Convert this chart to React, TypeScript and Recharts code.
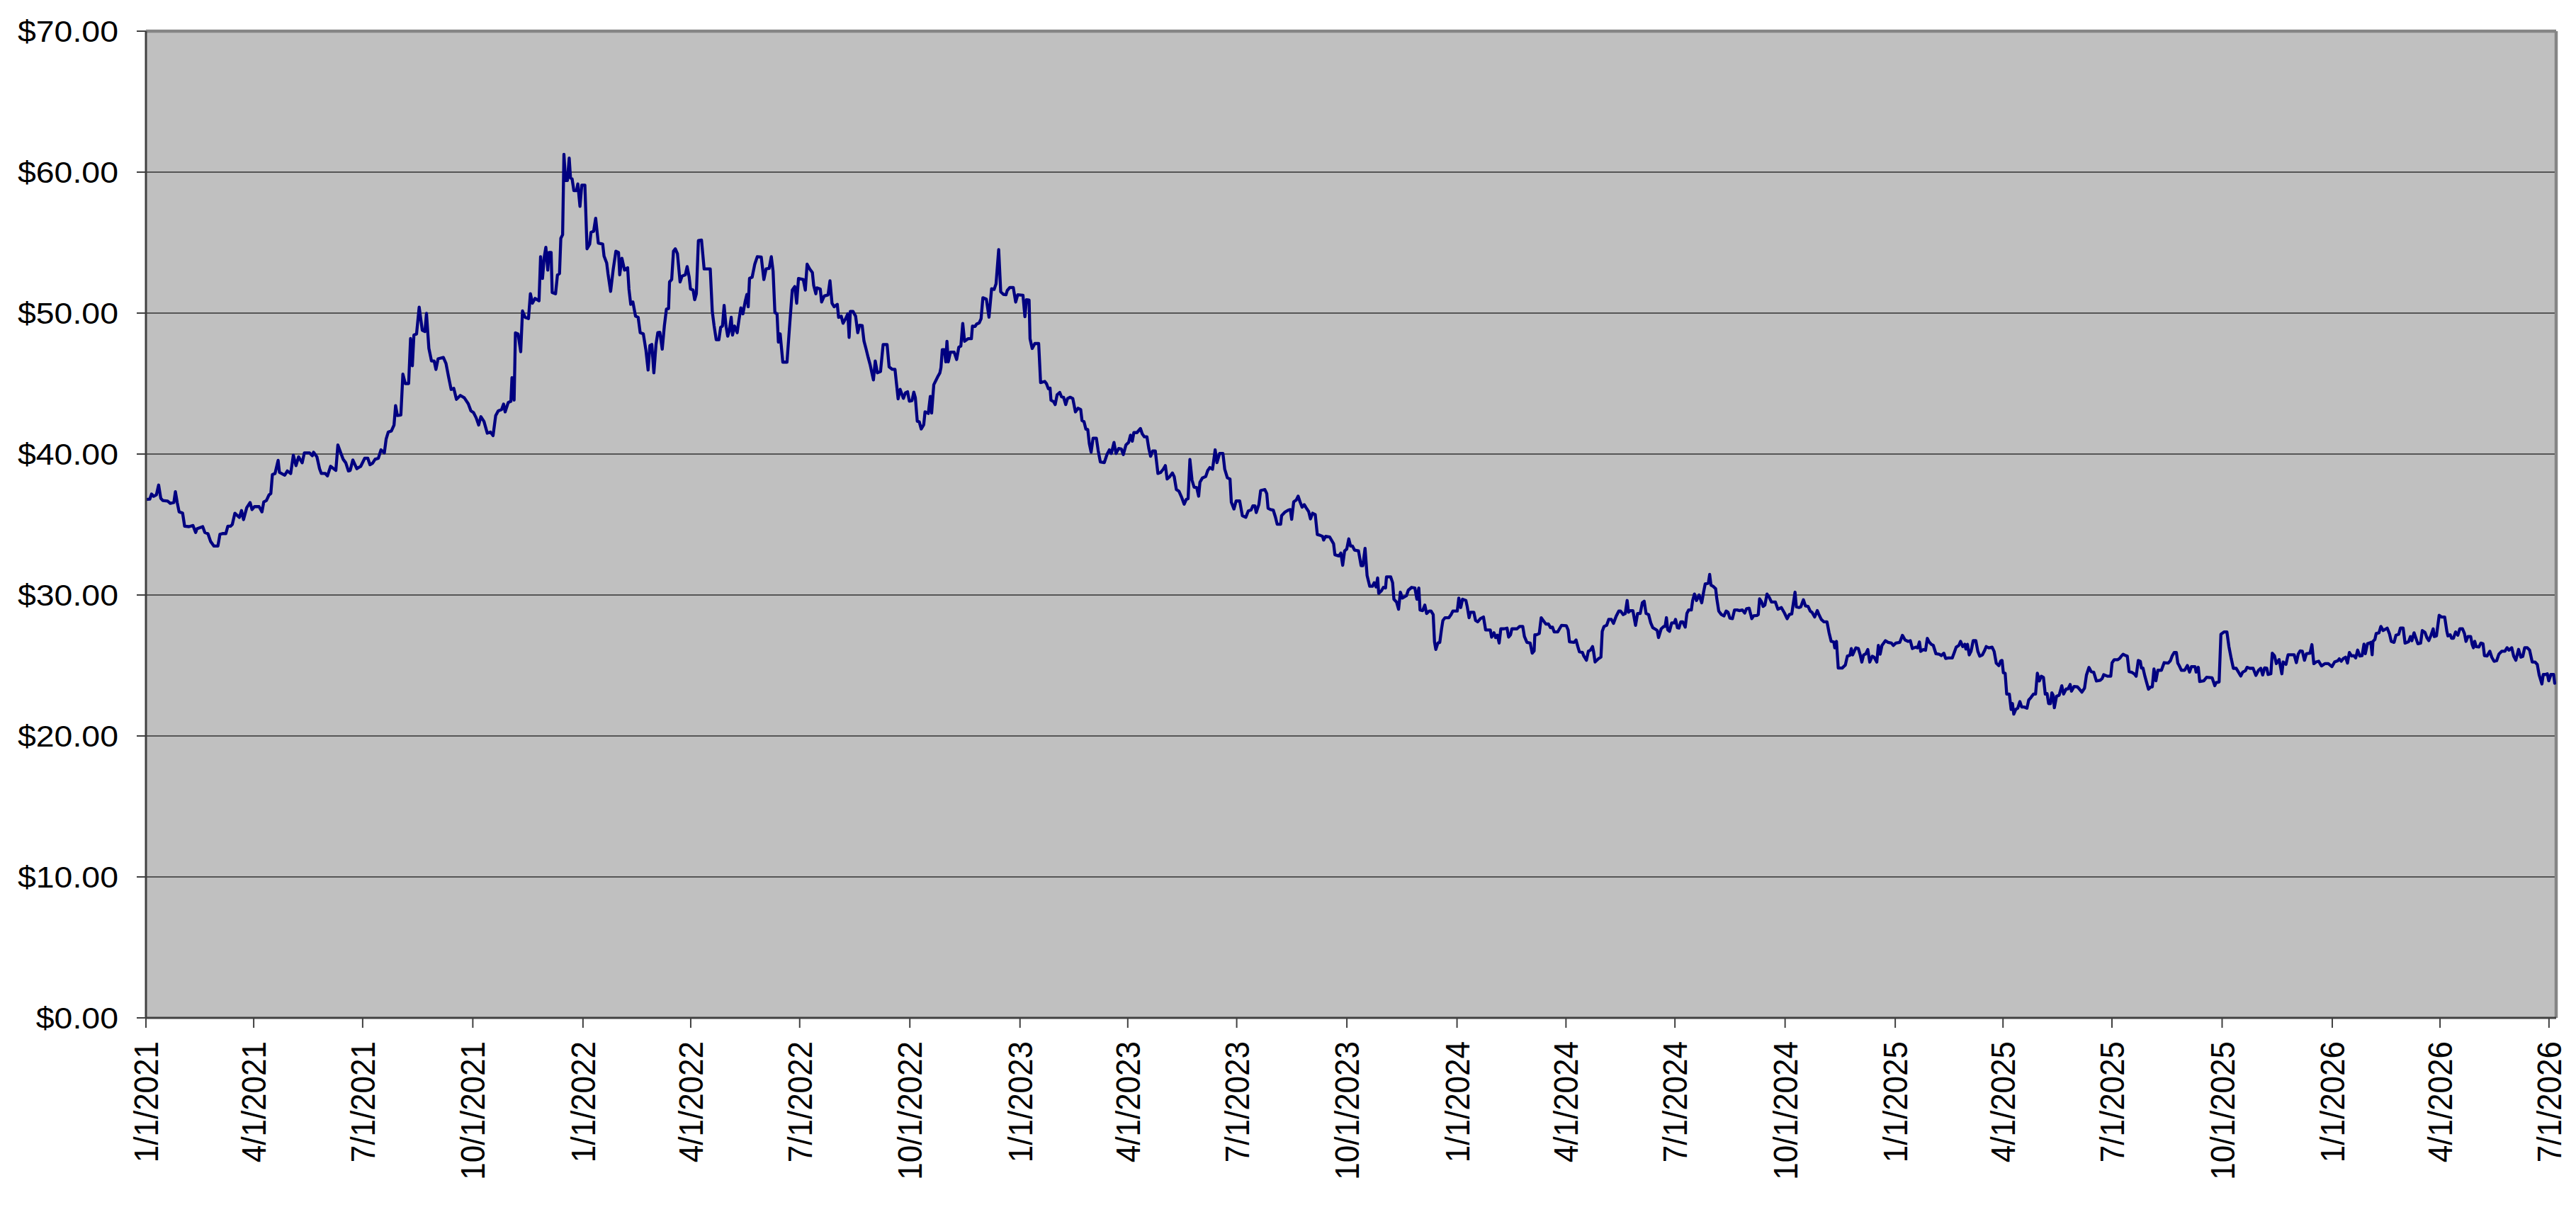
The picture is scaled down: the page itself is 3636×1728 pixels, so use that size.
import React from 'react';
import { LineChart, Line, XAxis, YAxis, CartesianGrid, ReferenceLine } from 'recharts';

// x values are days counted from 1/1/2021, y values are prices in dollars
const START_UTC = Date.UTC(2021, 0, 1);
const DAY_MS = 86400000;
const X_END_DAY = 2013;

const tickDates: string[] = [
  '1/1/2021', '4/1/2021', '7/1/2021', '10/1/2021',
  '1/1/2022', '4/1/2022', '7/1/2022', '10/1/2022',
  '1/1/2023', '4/1/2023', '7/1/2023', '10/1/2023',
  '1/1/2024', '4/1/2024', '7/1/2024', '10/1/2024',
  '1/1/2025', '4/1/2025', '7/1/2025', '10/1/2025',
  '1/1/2026', '4/1/2026', '7/1/2026',
];

const priceTicks: number[] = [0, 10, 20, 30, 40, 50, 60, 70];

// Jan 2021 - Nov 2021
const pricesA: [number, number][] = [
  [0, 36.78], [3.2, 36.8], [4.7, 37.16], [6.5, 37.0], [8.7, 37.1], [10.6, 37.8], [12.4, 36.86], [14.1, 36.7], [18.1, 36.66], [20.3, 36.5],
  [23.3, 36.56], [24.6, 37.33], [26.2, 36.53], [27.7, 35.9], [30.6, 35.82], [32.3, 34.88], [36.0, 34.85], [39.3, 34.93], [41.5, 34.43], [42.6, 34.7],
  [47.4, 34.85], [49.2, 34.43], [51.8, 34.35], [54.0, 33.8], [56.8, 33.47], [60.1, 33.47], [61.8, 34.3], [64.5, 34.37], [66.7, 34.35], [68.4, 34.88],
  [70.6, 34.88], [72.1, 35.0], [74.3, 35.8], [78.0, 35.5], [79.8, 35.99], [81.5, 35.35], [84.2, 36.2], [87.0, 36.56], [88.6, 36.06], [90.7, 36.27],
  [94.5, 36.27], [96.9, 35.9], [98.4, 36.6], [100.6, 36.7], [102.8, 37.1], [104.3, 37.2], [105.6, 38.54], [107.8, 38.62], [110.4, 39.55], [111.5, 38.7],
  [115.9, 38.5], [118.1, 38.8], [120.9, 38.62], [123.1, 39.92], [125.3, 39.18], [127.5, 39.8], [130.5, 39.38], [132.3, 40.08], [136.7, 40.08], [138.9, 39.88],
  [140.0, 40.13], [142.8, 39.8], [145.0, 38.96], [146.5, 38.62], [149.8, 38.62], [151.6, 38.45], [154.2, 39.13], [158.6, 38.84], [160.3, 40.64], [162.5, 40.13],
  [164.7, 39.63], [166.9, 39.38], [169.1, 38.8], [170.6, 38.84], [172.8, 39.58], [176.1, 38.96], [179.4, 39.13], [182.7, 39.7], [185.3, 39.7], [187.1, 39.24],
  [189.3, 39.35], [191.4, 39.63], [194.1, 39.7], [196.3, 40.3], [199.1, 40.08], [200.6, 41.06], [202.4, 41.56], [205.0, 41.64], [207.2, 42.06], [208.5, 43.44],
  [210.0, 42.73], [212.9, 42.77], [214.6, 45.67], [216.6, 45.0], [219.4, 45.0], [221.0, 48.19], [222.5, 46.26], [223.8, 48.44], [226.0, 48.52], [228.2, 50.42],
  [230.8, 48.78], [233.0, 48.69], [234.3, 49.98], [236.3, 47.5], [238.5, 46.6], [240.7, 46.6], [242.2, 46.0], [244.0, 46.76], [248.4, 46.85], [250.6, 46.43],
  [252.7, 45.5], [254.9, 44.58], [257.1, 44.66], [259.3, 43.88], [262.6, 44.16], [265.9, 43.99], [269.2, 43.57], [271.4, 43.07], [273.6, 42.94], [275.8, 42.57],
  [277.9, 42.06], [279.7, 42.65], [282.3, 42.32], [285.1, 41.48], [287.7, 41.56], [289.9, 41.31], [292.1, 42.73], [294.3, 43.07], [297.0, 43.15], [298.7, 43.54],
  [300.0, 42.99], [302.6, 43.66], [304.8, 43.74], [305.7, 45.42], [307.5, 43.83], [308.6, 48.6], [310.8, 48.52], [313.0, 47.26], [314.5, 50.15], [316.7, 49.7],
  [319.5, 49.61], [321.1, 51.38], [322.8, 50.7], [325.0, 51.04], [328.3, 50.87],
];

// Nov 2021 - Oct 2022
const pricesB: [number, number][] = [
  [329.6, 54.0], [331.2, 52.46], [332.7, 54.0], [334.0, 54.67], [335.6, 53.05], [336.7, 54.3], [338.4, 54.3], [339.3, 51.46], [342.1, 51.37], [343.7, 52.71],
  [345.4, 52.8], [346.5, 55.3], [348.0, 55.56], [349.1, 61.26], [350.4, 59.41], [352.0, 59.41], [353.5, 61.0], [354.6, 59.58], [355.9, 59.53], [357.4, 58.69],
  [359.6, 58.69], [360.7, 59.16], [362.5, 57.57], [364.0, 59.08], [366.6, 59.08], [368.4, 54.56], [370.6, 54.89], [371.7, 55.73], [373.9, 55.8], [375.6, 56.73],
  [377.8, 54.97], [381.5, 54.89], [382.6, 54.05], [384.8, 53.55], [385.9, 52.8], [388.1, 51.54], [390.3, 53.13], [392.5, 54.39], [394.7, 54.3], [395.7, 52.71],
  [397.5, 53.89], [399.7, 53.05], [402.3, 53.22], [403.4, 51.71], [404.9, 50.62], [406.7, 50.79], [408.9, 49.78], [411.1, 49.7], [412.8, 48.61], [415.4, 48.53],
  [417.6, 47.35], [419.4, 45.96], [420.9, 47.69], [422.5, 47.77], [424.2, 45.76], [426.0, 47.77], [427.5, 48.61], [429.2, 48.64], [431.2, 47.44], [433.0, 49.11],
  [434.7, 50.28], [436.5, 50.32], [437.3, 52.21], [439.1, 52.38], [440.6, 54.39], [442.1, 54.56], [443.9, 54.22], [446.1, 52.21], [447.8, 52.63], [450.5, 52.71],
  [452.0, 53.3], [453.7, 52.55], [454.8, 51.71], [457.0, 51.63], [458.3, 50.95], [459.7, 51.37], [461.4, 55.14], [464.0, 55.18], [466.2, 53.13], [469.1, 53.13],
  [471.3, 53.13], [473.0, 50.12], [474.5, 49.11], [476.3, 48.11], [478.5, 48.11], [480.0, 48.98], [481.5, 49.08], [482.9, 50.54], [484.4, 49.11], [485.9, 48.36],
  [487.2, 48.74], [488.8, 49.7], [489.9, 48.44], [491.6, 49.08], [493.8, 48.61], [495.3, 49.53], [496.9, 50.37], [498.6, 49.95], [500.4, 50.79], [501.9, 51.32],
  [503.0, 50.45], [504.1, 52.46], [506.3, 52.55], [508.5, 53.47], [510.6, 54.0], [513.9, 53.97], [516.1, 52.38], [517.9, 53.13], [520.5, 53.17], [522.3, 54.0],
  [523.8, 52.96], [525.3, 50.03], [527.1, 49.95], [528.2, 47.94], [529.7, 48.53], [531.9, 46.52], [535.4, 46.52], [537.6, 49.11], [539.8, 51.63], [541.9, 51.88],
  [543.5, 50.7], [545.0, 52.46], [549.0, 52.38], [550.7, 51.63], [552.2, 53.47], [554.4, 53.13], [556.6, 52.88], [557.7, 51.96], [559.5, 51.37], [560.3, 51.79],
  [563.2, 51.71], [564.3, 50.79], [566.5, 51.21], [569.7, 51.29], [571.3, 52.29], [573.0, 50.7], [574.8, 50.45], [577.4, 50.62], [578.5, 49.7], [580.7, 49.78],
  [582.2, 49.28], [584.4, 49.61], [586.2, 49.95], [587.3, 48.27], [588.3, 50.12], [590.5, 50.12], [592.7, 49.78], [594.5, 48.61], [596.0, 49.14], [598.2, 49.11],
  [599.7, 48.02], [601.5, 47.44], [603.2, 46.85], [604.8, 46.35], [606.3, 45.76], [607.6, 45.26], [609.1, 46.6], [610.9, 45.76], [613.5, 45.85], [615.7, 47.77],
  [619.0, 47.77], [620.7, 46.18], [623.4, 46.01], [625.6, 46.01], [628.2, 43.92], [629.9, 44.59], [632.6, 43.95], [634.3, 44.34], [636.1, 44.42], [637.6, 43.75],
  [639.8, 43.79], [641.3, 44.39], [642.6, 44.0], [644.2, 42.33], [645.9, 42.28], [647.5, 41.78], [649.6, 42.08], [650.7, 43.0], [653.4, 42.88], [655.1, 44.09],
  [656.2, 42.91], [658.0, 44.92],
];

// Oct 2022 - Sep 2023
const pricesC: [number, number][] = [
  [661.4, 45.5], [663.1, 45.76], [664.0, 46.14], [665.1, 47.4], [666.9, 47.4], [668.0, 46.54], [669.0, 48.0], [670.1, 46.54], [671.9, 47.23], [675.0, 47.23],
  [677.1, 46.71], [678.9, 47.58], [680.6, 47.66], [682.2, 49.26], [683.7, 48.0], [686.6, 48.18], [689.4, 48.18], [690.3, 49.08], [692.5, 49.05], [693.8, 49.22],
  [696.0, 49.31], [697.5, 49.6], [699.0, 51.09], [701.9, 50.99], [704.1, 49.71], [706.3, 51.73], [708.4, 51.68], [710.0, 52.08], [712.2, 54.5], [713.9, 51.51],
  [716.1, 51.33], [718.3, 51.3], [719.4, 51.61], [721.6, 51.82], [724.4, 51.82], [726.4, 50.78], [728.1, 51.3], [732.5, 51.26], [734.1, 49.74], [735.4, 50.95],
  [737.6, 50.92], [738.4, 48.18], [740.2, 47.49], [742.4, 47.84], [745.6, 47.84], [747.2, 45.07], [750.7, 45.15], [752.2, 44.98], [753.7, 44.63], [755.1, 44.68],
  [755.9, 43.82], [758.1, 43.71], [759.4, 43.51], [761.0, 44.2], [763.2, 44.37], [764.7, 44.06], [766.4, 44.03], [768.2, 43.51], [769.7, 43.94], [771.9, 44.03],
  [774.1, 43.94], [776.3, 42.99], [778.5, 43.25], [780.7, 43.16], [781.8, 42.38], [783.5, 42.29], [785.0, 41.77], [786.6, 41.74], [787.9, 40.74], [789.4, 40.13],
  [791.0, 41.12], [793.8, 41.12], [795.3, 40.25], [797.1, 39.44], [800.4, 39.39], [802.6, 39.96], [804.7, 40.3], [806.3, 40.04], [808.5, 40.82], [810.2, 40.04],
  [812.4, 40.39], [814.6, 40.36], [816.3, 39.96], [818.5, 40.65], [820.7, 40.82], [822.3, 41.34], [823.8, 40.91], [825.1, 41.52], [827.7, 41.52], [830.6, 41.81],
  [832.1, 41.43], [833.9, 41.22], [836.0, 41.22], [837.6, 40.39], [839.1, 39.84], [840.9, 40.22], [843.0, 40.22], [845.2, 38.62], [847.4, 38.69], [849.6, 38.92],
  [851.4, 39.18], [852.9, 38.23], [855.1, 38.4], [857.3, 38.66], [858.8, 38.4], [860.6, 37.48], [862.8, 37.36], [865.0, 36.93], [867.1, 36.44], [868.9, 36.79],
  [870.4, 36.84], [871.9, 39.61], [873.7, 38.14], [875.4, 37.65], [877.6, 37.62], [879.2, 37.01], [880.3, 38.0], [882.4, 38.31], [885.1, 38.4], [886.8, 38.83],
  [888.6, 39.04], [890.8, 38.92], [893.0, 40.3], [894.5, 39.39], [896.7, 40.04], [899.5, 40.04], [901.0, 38.92], [903.2, 38.31], [905.4, 38.23], [906.5, 36.58],
  [908.7, 36.1], [910.5, 36.67], [913.5, 36.67], [915.7, 35.63], [918.6, 35.51], [920.7, 35.97], [923.0, 36.03], [924.5, 36.32], [926.2, 36.32], [927.3, 35.85],
  [929.5, 36.41], [931.0, 37.41], [932.8, 37.45], [934.5, 37.48], [936.1, 37.19], [937.2, 36.15], [939.3, 36.06], [941.5, 36.03], [943.3, 35.54], [944.8, 35.02],
  [947.7, 35.02], [948.5, 35.63], [951.4, 35.89], [954.2, 36.03], [955.8, 36.06], [956.9, 35.37], [958.6, 36.61], [960.8, 36.75], [962.3, 37.01], [963.9, 36.61],
  [965.6, 36.23], [967.4, 36.41], [968.9, 36.2], [971.1, 35.92], [972.6, 35.4], [974.4, 35.8], [976.6, 35.71], [978.3, 34.29], [980.5, 34.24], [982.7, 34.16],
  [983.6, 33.9], [985.3, 34.16], [988.6, 34.12], [990.1, 33.9], [991.9, 33.64], [993.0, 32.86], [996.3, 32.77], [998.0, 32.98], [999.5, 32.11], [1001.1, 33.12],
];

// Sep 2023 - Aug 2024
const pricesD: [number, number][] = [
  [1002.9, 33.26], [1004.6, 33.98], [1006.1, 33.47], [1007.7, 33.47], [1009.4, 33.19], [1012.7, 33.14], [1014.9, 32.08], [1016.4, 32.08], [1018.2, 33.31], [1019.9, 31.38],
  [1022.1, 30.62], [1024.3, 30.62], [1025.8, 30.87], [1027.4, 30.57], [1028.7, 31.21], [1029.6, 30.12], [1031.8, 30.29], [1033.5, 30.54], [1035.3, 30.5], [1036.1, 31.29],
  [1039.6, 31.29], [1041.2, 30.87], [1042.3, 29.7], [1044.5, 29.5], [1046.2, 28.99], [1047.7, 30.2], [1049.3, 29.78], [1052.8, 29.95], [1054.3, 30.34], [1057.1, 30.54],
  [1059.8, 30.5], [1061.5, 29.7], [1063.1, 30.5], [1064.1, 28.94], [1066.3, 28.89], [1068.1, 29.28], [1069.6, 28.69], [1071.8, 28.86], [1073.3, 28.86], [1075.1, 28.61],
  [1076.2, 26.68], [1077.3, 26.14], [1079.0, 26.59], [1080.6, 26.64], [1082.1, 27.6], [1083.2, 28.19], [1085.0, 28.39], [1088.2, 28.39], [1090.0, 28.61], [1091.5, 28.86],
  [1095.2, 28.86], [1096.5, 29.78], [1098.1, 29.11], [1099.6, 29.7], [1102.4, 29.61], [1103.5, 29.19], [1105.1, 28.39], [1106.2, 28.78], [1109.0, 28.78], [1110.5, 28.19],
  [1112.3, 28.1], [1114.5, 28.32], [1117.1, 28.44], [1118.9, 27.52], [1122.8, 27.52], [1123.9, 27.01], [1125.9, 27.32], [1127.2, 26.98], [1128.7, 27.15], [1130.2, 26.59],
  [1131.6, 27.6], [1134.2, 27.6], [1136.8, 27.65], [1138.1, 27.01], [1139.7, 27.18], [1140.8, 27.6], [1145.1, 27.6], [1147.3, 27.77], [1149.9, 27.77], [1151.3, 27.05],
  [1153.4, 26.64], [1156.1, 26.59], [1157.8, 25.87], [1159.4, 26.04], [1160.0, 27.18], [1161.5, 27.18], [1163.7, 27.27], [1165.3, 28.39], [1167.0, 28.19], [1169.2, 27.94],
  [1171.4, 27.94], [1173.1, 27.68], [1174.7, 27.72], [1176.2, 27.38], [1179.1, 27.38], [1182.3, 27.85], [1186.3, 27.82], [1187.8, 27.52], [1188.9, 26.68], [1192.8, 26.64],
  [1194.4, 26.81], [1195.9, 26.34], [1197.2, 25.97], [1199.8, 25.92], [1200.9, 25.67], [1203.1, 25.37], [1204.7, 26.01], [1206.4, 26.09], [1208.2, 26.34], [1209.0, 26.01],
  [1210.3, 25.25], [1213.4, 25.5], [1215.2, 25.59], [1216.3, 27.43], [1217.8, 27.77], [1220.0, 27.85], [1221.7, 28.27], [1223.9, 28.27], [1225.7, 27.99], [1227.9, 28.49],
  [1230.1, 28.86], [1231.6, 28.86], [1233.8, 28.61], [1235.5, 28.69], [1237.1, 29.61], [1238.2, 28.78], [1239.7, 28.89], [1241.9, 28.89], [1244.1, 27.85], [1245.8, 28.69],
  [1248.0, 28.69], [1249.8, 29.45], [1251.3, 29.56], [1252.9, 28.69], [1255.0, 28.61], [1256.8, 28.02], [1258.5, 27.68], [1261.1, 27.55], [1262.2, 27.48], [1263.3, 26.98],
  [1265.5, 27.6], [1267.7, 27.77], [1268.8, 27.77], [1269.9, 28.39], [1271.0, 27.52], [1272.5, 27.43], [1274.3, 28.02], [1276.4, 28.02], [1277.5, 28.27], [1279.1, 27.68],
  [1280.4, 27.65], [1281.9, 28.1], [1283.5, 28.1], [1285.6, 27.72], [1287.0, 28.69], [1288.5, 28.94], [1290.7, 28.94], [1291.8, 29.61], [1293.3, 30.07], [1295.0, 29.61],
  [1297.2, 30.0], [1299.4, 29.45], [1301.0, 30.23], [1302.3, 30.79], [1304.9, 30.84], [1306.0, 31.46], [1307.1, 30.7], [1308.8, 30.62], [1311.0, 30.45], [1311.9, 29.78],
  [1313.6, 28.86], [1315.8, 28.61], [1318.0, 28.52], [1319.8, 28.86], [1321.3, 28.78], [1322.9, 28.36], [1325.0, 28.32], [1326.8, 28.94], [1329.0, 28.94], [1330.7, 28.89],
  [1333.3, 28.94],
];

// Aug 2024 - Jul 2025
const pricesE: [number, number][] = [
  [1335.3, 28.72], [1336.8, 29.03], [1339.0, 29.06], [1341.2, 28.32], [1342.7, 28.52], [1345.5, 28.55], [1346.6, 28.61], [1347.7, 29.73], [1349.3, 29.53], [1350.6, 29.19],
  [1352.1, 29.28], [1353.9, 30.07], [1355.8, 29.83], [1357.6, 29.5], [1360.9, 29.5], [1363.0, 28.99], [1365.9, 29.11], [1368.5, 28.72], [1370.7, 28.32], [1372.5, 28.61],
  [1374.6, 28.66], [1375.5, 29.19], [1377.3, 30.2], [1378.4, 29.16], [1380.6, 29.11], [1382.1, 29.16], [1384.3, 29.66], [1386.0, 29.23], [1388.2, 29.19], [1390.0, 28.86],
  [1391.5, 28.77], [1393.7, 28.44], [1395.9, 28.89], [1397.0, 28.66], [1399.2, 28.27], [1401.3, 28.1], [1404.0, 28.1], [1405.7, 27.34], [1407.5, 26.71], [1409.7, 26.67],
  [1410.5, 26.25], [1411.9, 26.71], [1413.4, 24.82], [1416.7, 24.82], [1419.3, 25.03], [1421.0, 25.66], [1423.2, 25.73], [1424.3, 26.2], [1425.4, 25.75], [1428.1, 26.25],
  [1430.2, 26.2], [1431.6, 25.8], [1433.1, 25.24], [1434.6, 25.75], [1436.4, 25.83], [1438.1, 26.13], [1439.7, 25.24], [1441.8, 25.66], [1443.4, 25.58], [1445.6, 25.24],
  [1446.9, 26.42], [1448.4, 25.8], [1449.9, 26.42], [1452.8, 26.76], [1455.0, 26.64], [1457.8, 26.59], [1459.4, 26.42], [1461.5, 26.59], [1464.8, 26.64], [1467.0, 27.14],
  [1469.2, 26.81], [1471.8, 26.71], [1473.6, 26.76], [1475.3, 26.2], [1478.0, 26.3], [1479.7, 26.25], [1481.2, 26.67], [1482.3, 26.0], [1484.5, 26.13], [1486.3, 26.08],
  [1487.8, 26.92], [1489.3, 26.67], [1491.1, 26.5], [1492.8, 26.42], [1495.0, 25.83], [1497.7, 25.8], [1499.4, 25.7], [1501.6, 25.87], [1503.1, 25.5], [1505.3, 25.53],
  [1508.6, 25.53], [1510.3, 25.92], [1511.9, 26.3], [1514.1, 26.42], [1515.6, 26.71], [1517.4, 26.34], [1519.1, 26.5], [1520.0, 26.17], [1521.3, 26.5], [1522.8, 25.75],
  [1524.3, 26.0], [1526.1, 26.76], [1528.3, 26.76], [1530.0, 26.0], [1531.6, 25.66], [1533.8, 25.75], [1535.3, 26.0], [1537.0, 26.34], [1539.2, 26.25], [1541.9, 26.3],
  [1543.6, 26.0], [1545.4, 25.16], [1547.5, 24.99], [1549.1, 25.33], [1550.2, 25.36], [1551.3, 24.49], [1552.8, 24.45], [1554.1, 22.97], [1556.3, 22.97], [1557.8, 21.88],
  [1558.9, 22.3], [1560.0, 21.55], [1561.6, 21.88], [1563.3, 21.97], [1565.1, 22.44], [1566.6, 22.05], [1568.8, 22.05], [1571.0, 21.97], [1572.5, 22.55], [1574.3, 22.72],
  [1576.4, 22.97], [1578.2, 22.97], [1579.7, 24.45], [1581.3, 23.9], [1583.0, 24.24], [1584.8, 24.15], [1586.3, 22.97], [1587.8, 23.01], [1589.1, 22.3], [1590.7, 22.3],
  [1591.8, 23.06], [1592.9, 22.89], [1593.9, 22.0], [1595.7, 22.81], [1597.9, 22.89], [1600.1, 23.56], [1601.6, 22.97], [1603.8, 23.34], [1605.3, 23.34], [1607.1, 23.65],
  [1608.2, 23.18], [1610.4, 23.51], [1613.2, 23.48], [1614.7, 23.34], [1616.9, 23.11], [1619.1, 23.39], [1620.7, 24.32], [1622.8, 24.86], [1624.6, 24.57], [1626.8, 24.52],
  [1629.0, 23.9], [1632.2, 23.95], [1633.8, 24.07], [1635.1, 24.35], [1638.2, 24.24], [1641.0, 24.24], [1642.1, 25.19], [1643.9, 25.41], [1646.9, 25.41], [1648.7, 25.53],
  [1649.8, 25.66], [1651.3, 25.8], [1653.5, 25.7], [1654.8, 25.66], [1656.3, 24.57], [1658.5, 24.52], [1660.7, 24.4], [1662.2, 24.24], [1664.0, 25.36], [1665.7, 25.29],
  [1666.6, 24.82], [1667.9, 24.82], [1669.5, 24.24],
];

// Jul 2025 - Jul 2026
const pricesF: [number, number][] = [
  [1672.5, 23.32], [1674.1, 23.46], [1675.7, 23.49], [1677.1, 24.75], [1678.7, 23.91], [1680.3, 24.66], [1683.3, 24.66], [1685.6, 25.2], [1689.0, 25.17], [1690.8, 25.34],
  [1692.4, 25.7], [1694.0, 25.92], [1695.8, 25.92], [1697.0, 25.17], [1698.1, 25.0], [1700.0, 24.66], [1702.7, 24.66], [1705.0, 25.0], [1706.8, 24.53], [1708.4, 24.92],
  [1711.4, 24.92], [1712.3, 24.53], [1714.1, 24.87], [1715.3, 23.86], [1718.7, 23.91], [1721.0, 24.16], [1725.6, 24.13], [1727.9, 23.57], [1729.0, 23.79], [1731.5, 23.83],
  [1733.0, 27.21], [1735.6, 27.38], [1738.0, 27.38], [1739.7, 26.34], [1741.6, 25.5], [1743.4, 24.8], [1745.7, 24.8], [1747.3, 24.58], [1749.6, 24.25], [1751.2, 24.53],
  [1753.5, 24.63], [1754.8, 24.87], [1757.1, 24.8], [1759.9, 24.8], [1762.2, 24.3], [1764.4, 24.66], [1766.3, 24.8], [1767.9, 24.33], [1769.5, 24.83], [1771.3, 24.8],
  [1772.4, 24.36], [1774.7, 24.41], [1775.9, 25.87], [1777.7, 25.7], [1779.3, 25.13], [1781.6, 25.42], [1783.9, 24.41], [1785.0, 25.25], [1787.3, 25.08], [1789.1, 25.76],
  [1791.9, 25.76], [1794.2, 25.76], [1796.0, 25.2], [1797.6, 25.81], [1799.2, 26.04], [1801.0, 26.01], [1802.8, 25.37], [1804.4, 25.84], [1807.4, 25.87], [1809.0, 26.48],
  [1810.6, 25.13], [1812.5, 25.25], [1814.7, 25.3], [1817.0, 24.97], [1819.8, 25.13], [1822.7, 25.13], [1825.7, 24.92], [1828.0, 25.25], [1830.7, 25.34], [1831.9, 25.47],
  [1833.5, 25.3], [1835.3, 25.5], [1837.1, 25.59], [1838.7, 25.17], [1840.3, 25.92], [1842.2, 25.67], [1844.0, 25.7], [1845.6, 25.54], [1847.2, 26.09], [1849.0, 25.67],
  [1850.9, 25.7], [1852.5, 26.51], [1853.6, 25.84], [1855.4, 26.54], [1857.0, 26.59], [1858.2, 26.64], [1859.3, 25.76], [1860.0, 26.71], [1861.6, 26.85], [1862.7, 27.27],
  [1865.0, 27.32], [1866.6, 27.77], [1868.5, 27.48], [1871.9, 27.65], [1873.7, 27.27], [1875.3, 26.71], [1877.6, 26.64], [1879.2, 27.15], [1881.5, 27.21], [1882.9, 27.65],
  [1885.2, 27.65], [1886.8, 26.59], [1889.7, 26.68], [1891.3, 27.05], [1892.5, 26.76], [1894.3, 27.32], [1895.9, 26.93], [1897.5, 26.54], [1899.8, 26.59], [1901.2, 27.48],
  [1903.4, 27.35], [1905.0, 26.98], [1906.6, 26.76], [1908.5, 27.15], [1910.3, 27.6], [1911.2, 27.05], [1913.0, 27.1], [1915.3, 28.56], [1917.2, 28.44], [1919.9, 28.44],
  [1921.7, 27.43], [1922.6, 27.1], [1924.5, 27.18], [1925.6, 26.93], [1927.2, 26.93], [1929.0, 27.38], [1930.9, 27.15], [1932.5, 27.6], [1934.8, 27.6], [1936.4, 27.27],
  [1937.7, 26.71], [1939.3, 27.05], [1941.6, 27.05], [1942.8, 26.51], [1943.9, 26.26], [1945.0, 26.71], [1946.2, 26.34], [1948.5, 26.31], [1950.1, 26.59], [1951.9, 26.54],
  [1953.1, 25.7], [1955.3, 25.67], [1957.6, 26.01], [1959.2, 25.59], [1961.1, 25.3], [1963.3, 25.34], [1965.2, 25.81], [1967.5, 26.01], [1970.2, 26.01], [1972.0, 26.26],
  [1973.6, 26.09], [1975.9, 26.26], [1977.5, 25.67], [1979.3, 25.37], [1981.6, 26.14], [1983.5, 25.59], [1985.1, 25.64], [1986.7, 26.26], [1988.9, 26.26], [1990.8, 26.09],
  [1993.0, 25.25], [1995.3, 25.25], [1997.2, 25.08], [1998.8, 24.33], [2001.1, 23.69], [2002.2, 24.36], [2004.0, 24.36], [2005.6, 24.41], [2006.8, 23.91], [2008.6, 24.36],
  [2010.9, 24.36], [2011.8, 23.74],
];

const dayOfLabel = (label: string): number => {
  const [m, d, y] = label.split('/').map(Number);
  return Math.round((Date.UTC(y, m - 1, d) - START_UTC) / DAY_MS);
};

const tickDays = tickDates.map(dayOfLabel);
const labelByDay = new Map<number, string>(tickDays.map((d, i) => [d, tickDates[i]]));

const chartData = [...pricesA, ...pricesB, ...pricesC, ...pricesD, ...pricesE, ...pricesF].map(([day, price]) => ({ day, price }));

const FONT = '"Liberation Sans", Arial, Helvetica, sans-serif';
const STRETCH = 1.08;

const YTick = (props: any) => {
  const { x, y, payload } = props;
  const label = `$${Number(payload.value).toFixed(2)}`;
  return (
    <text
      x={x}
      y={y}
      dy="0.36em"
      textAnchor="end"
      fontFamily={FONT}
      fontSize={43}
      fill="#000000"
      transform={`translate(${x} ${y}) scale(${STRETCH} 1) translate(${-x} ${-y})`}
    >
      {label}
    </text>
  );
};

const XTick = (props: any) => {
  const { x, y, payload } = props;
  const label = labelByDay.get(payload.value) ?? '';
  return (
    <text
      x={x}
      y={y}
      dy="0.36em"
      textAnchor="end"
      fontFamily={FONT}
      fontSize={44}
      fill="#000000"
      transform={`translate(${x} ${y}) scale(${STRETCH} 1) rotate(-90) translate(${-x} ${-y})`}
    >
      {label}
    </text>
  );
};

export default function App() {
  return (
    <div style={{ position: 'absolute', left: 0, top: 0, width: 3636, height: 1728, background: '#ffffff' }}>
      <LineChart
        width={3636}
        height={1728}
        data={chartData}
        margin={{ top: 44, right: 28, bottom: 0, left: 0 }}
      >
        <CartesianGrid
          vertical={false}
          horizontal={true}
          stroke="#555555"
          strokeWidth={2}
          fill="#C0C0C0"
          fillOpacity={1}
        />
        <XAxis
          dataKey="day"
          type="number"
          domain={[0, X_END_DAY]}
          allowDataOverflow
          ticks={tickDays}
          interval={0}
          height={291}
          tickSize={14}
          tickMargin={19}
          tick={<XTick />}
          axisLine={{ stroke: '#404040', strokeWidth: 3 }}
          tickLine={{ stroke: '#404040', strokeWidth: 2 }}
        />
        <YAxis
          type="number"
          domain={[0, 70]}
          ticks={priceTicks}
          interval={0}
          width={206}
          tickSize={13}
          tickMargin={26}
          tick={<YTick />}
          axisLine={{ stroke: '#404040', strokeWidth: 3 }}
          tickLine={{ stroke: '#404040', strokeWidth: 2 }}
        />
        <ReferenceLine y={70} stroke="#858585" strokeWidth={4.5} />
        <ReferenceLine x={X_END_DAY} stroke="#858585" strokeWidth={4.5} />
        <Line
          type="linear"
          dataKey="price"
          stroke="#000080"
          strokeWidth={4.3}
          strokeLinejoin="round"
          strokeLinecap="round"
          dot={false}
          activeDot={false}
          isAnimationActive={false}
        />
      </LineChart>
    </div>
  );
}
